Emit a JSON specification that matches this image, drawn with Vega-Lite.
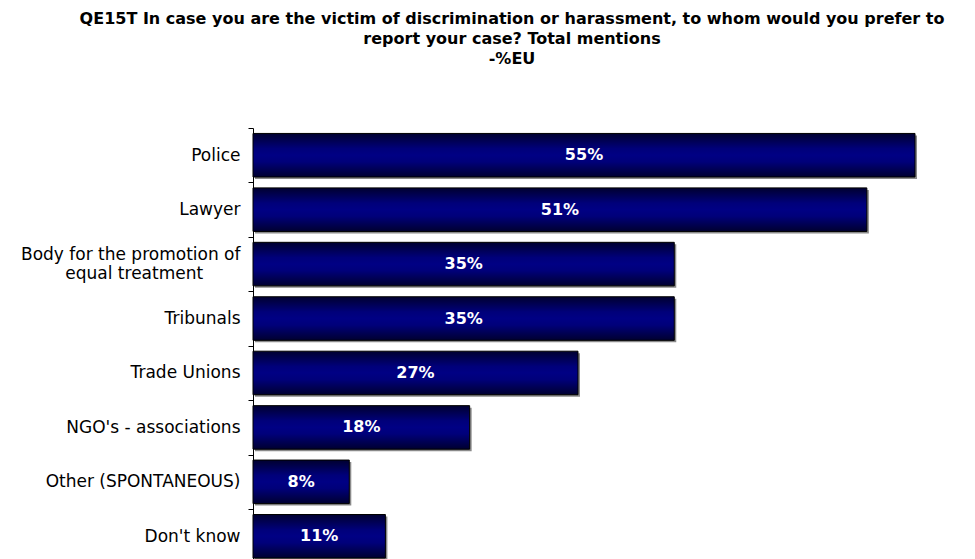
{
  "$schema": "https://vega.github.io/schema/vega-lite/v6.json",
  "width": 662,
  "height": 431,
  "autosize": {"type": "none"},
  "padding": {"left": 253, "top": 128, "right": 60, "bottom": 0},
  "background": "white",
  "config": {"view": {"stroke": null}},
  "title": {
    "text": ["QE15T In case you are the victim of discrimination or harassment, to whom would you prefer to", "report your case? Total mentions", "-%EU"],
    "font": "DejaVu Sans",
    "fontSize": 16,
    "fontWeight": "bold",
    "lineHeight": 20,
    "anchor": "middle",
    "frame": "group",
    "dx": -72,
    "offset": 52,
    "color": "#000000"
  },
  "data": {
    "values": [
      {"category": "Police", "value": 55},
      {"category": "Lawyer", "value": 51},
      {"category": "Body for the promotion of equal treatment", "value": 35},
      {"category": "Tribunals", "value": 35},
      {"category": "Trade Unions", "value": 27},
      {"category": "NGO's - associations", "value": 18},
      {"category": "Other (SPONTANEOUS)", "value": 8},
      {"category": "Don't know", "value": 11}
    ]
  },
  "transform": [
    {"calculate": "datum.value / 2", "as": "mid"},
    {"calculate": "datum.value + '%'", "as": "label"}
  ],
  "encoding": {
    "y": {
      "field": "category",
      "type": "nominal",
      "sort": null,
      "scale": {"paddingInner": 0, "paddingOuter": 0, "range": [0, 435.5]},
      "axis": {
        "title": null,
        "domainColor": "#000000",
        "domainWidth": 1,
        "tickColor": "#000000",
        "tickWidth": 1,
        "tickSize": 5,
        "tickBand": "extent",
        "labelFont": "DejaVu Sans",
        "labelFontSize": 17,
        "labelColor": "#000000",
        "labelPadding": 8,
        "labelLimit": 400,
        "labelLineHeight": 19,
        "labelOffset": {"condition": {"test": "datum.value == 'Body for the promotion of equal treatment'", "value": -9.5}, "value": 0},
        "labelExpr": "datum.value == 'Body for the promotion of equal treatment' ? ['Body for the promotion of', 'equal treatment\u2800\u2800\u2800'] : datum.value"
      }
    }
  },
  "layer": [
    {
      "mark": {"type": "bar", "fill": "#8a8a8a", "height": {"band": 0.8}, "xOffset": 2, "yOffset": 2},
      "encoding": {
        "x": {"field": "value", "type": "quantitative", "scale": {"domain": [0, 55], "nice": false, "zero": true}, "axis": null}
      }
    },
    {
      "mark": {
        "type": "bar",
        "height": {"band": 0.8},
        "stroke": "#000000",
        "strokeWidth": 1,
        "fill": {
          "gradient": "linear",
          "x1": 0, "y1": 0, "x2": 0, "y2": 1,
          "stops": [
            {"offset": 0, "color": "#000030"},
            {"offset": 0.35, "color": "#00007a"},
            {"offset": 0.5, "color": "#000084"},
            {"offset": 0.65, "color": "#00007a"},
            {"offset": 1, "color": "#000030"}
          ]
        }
      },
      "encoding": {
        "x": {"field": "value", "type": "quantitative", "axis": null}
      }
    },
    {
      "mark": {"type": "text", "color": "#ffffff", "font": "DejaVu Sans", "fontWeight": "bold", "fontSize": 16, "align": "center", "baseline": "middle"},
      "encoding": {
        "x": {"field": "mid", "type": "quantitative", "axis": null},
        "text": {"field": "label"}
      }
    }
  ]
}
